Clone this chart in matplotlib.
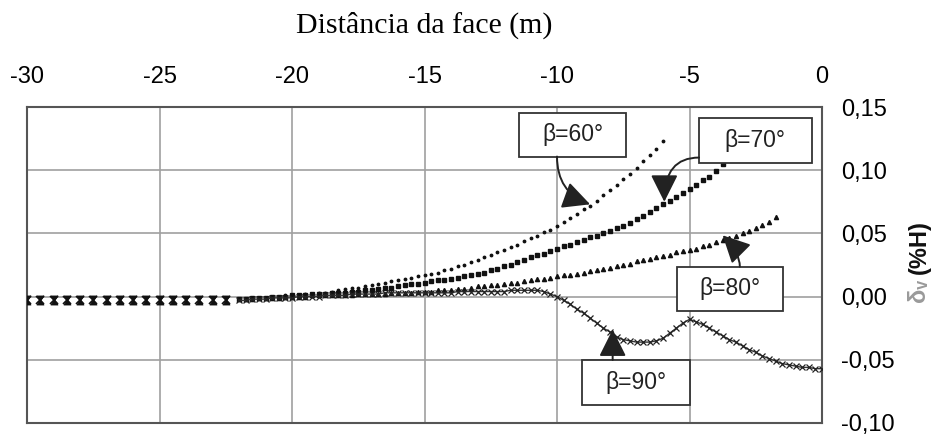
import numpy as np
import matplotlib
matplotlib.use("Agg")
import matplotlib.pyplot as plt
from matplotlib.patches import Rectangle

# ---------------- data ----------------
x_far = [-30.0, -29.5, -29.0, -28.5, -28.0, -27.5, -27.0, -26.5,
         -26.0, -25.5, -25.0, -24.5, -24.0, -23.5, -23.0, -22.5]
y_far = [-0.003, -0.003, -0.003, -0.003, -0.003, -0.003, -0.003, -0.003,
         -0.003, -0.003, -0.003, -0.003, -0.003, -0.003, -0.003, -0.003]

# beta = 60 deg, from -22 m to -6 m every 0.25 m
y_b60 = [
    -0.002, -0.002, -0.001, -0.001,
    -0.001, 0.000, 0.000, 0.001,
    0.001, 0.001, 0.002, 0.002,
    0.003, 0.003, 0.004, 0.005,
    0.006, 0.007, 0.007, 0.008,
    0.009, 0.010, 0.011, 0.012,
    0.013, 0.014, 0.015, 0.016,
    0.017, 0.018, 0.019, 0.021,
    0.022, 0.024, 0.025, 0.027,
    0.029, 0.031, 0.033, 0.035,
    0.037, 0.039, 0.041, 0.044,
    0.046, 0.048, 0.051, 0.053,
    0.056, 0.059, 0.062, 0.065,
    0.069, 0.072, 0.076, 0.080,
    0.084, 0.088, 0.093, 0.097,
    0.102, 0.107, 0.112, 0.117,
    0.123]

# beta = 70 deg, from -22 m to -3.75 m every 0.25 m
y_b70 = [
    -0.002, -0.002, -0.001, -0.001,
    -0.001, 0.000, 0.000, 0.000,
    0.001, 0.001, 0.001, 0.002,
    0.002, 0.002, 0.003, 0.003,
    0.003, 0.004, 0.004, 0.005,
    0.005, 0.006, 0.007, 0.007,
    0.008, 0.009, 0.010, 0.010,
    0.011, 0.012, 0.013, 0.013,
    0.014, 0.015, 0.016, 0.017,
    0.018, 0.019, 0.021, 0.022,
    0.024, 0.025, 0.027, 0.029,
    0.031, 0.033, 0.034, 0.036,
    0.038, 0.040, 0.041, 0.043,
    0.045, 0.047, 0.048, 0.050,
    0.052, 0.054, 0.056, 0.058,
    0.061, 0.064, 0.067, 0.070,
    0.073, 0.076, 0.079, 0.082,
    0.085, 0.088, 0.092, 0.095,
    0.099, 0.105]

# beta = 80 deg, from -22 m to -1.75 m every 0.25 m
y_b80 = [
    -0.002, -0.002, -0.002, -0.001,
    -0.001, -0.001, -0.001, 0.000,
    0.000, 0.000, 0.000, 0.001,
    0.001, 0.001, 0.001, 0.001,
    0.001, 0.001, 0.002, 0.002,
    0.002, 0.002, 0.002, 0.003,
    0.003, 0.003, 0.003, 0.004,
    0.004, 0.004, 0.005, 0.005,
    0.005, 0.006, 0.006, 0.007,
    0.008, 0.008, 0.009, 0.009,
    0.010, 0.011, 0.011, 0.012,
    0.013, 0.014, 0.014, 0.015,
    0.016, 0.017, 0.017, 0.018,
    0.019, 0.020, 0.021, 0.022,
    0.023, 0.024, 0.025, 0.026,
    0.028, 0.029, 0.030, 0.031,
    0.032, 0.033, 0.035, 0.036,
    0.037, 0.038, 0.040, 0.041,
    0.043, 0.045, 0.046, 0.048,
    0.050, 0.052, 0.054, 0.057,
    0.059, 0.063]

# beta = 90 deg, from -22 m to 0 m every 0.25 m
y_b90 = [
    -0.003, -0.003, -0.002, -0.002,
    -0.002, -0.001, -0.001, -0.001,
    -0.001, 0.000, 0.000, 0.000,
    0.000, 0.001, 0.001, 0.001,
    0.001, 0.002, 0.002, 0.002,
    0.002, 0.002, 0.003, 0.003,
    0.003, 0.003, 0.003, 0.003,
    0.003, 0.003, 0.003, 0.003,
    0.003, 0.004, 0.004, 0.004,
    0.004, 0.004, 0.004, 0.004,
    0.004, 0.005, 0.005, 0.005,
    0.005, 0.005, 0.004, 0.002,
    0.000, -0.003, -0.006, -0.010,
    -0.013, -0.017, -0.021, -0.025,
    -0.028, -0.032, -0.034, -0.035,
    -0.036, -0.036, -0.036, -0.035,
    -0.033, -0.029, -0.025, -0.021,
    -0.018, -0.020, -0.022, -0.025,
    -0.028, -0.031, -0.034, -0.036,
    -0.039, -0.042, -0.044, -0.047,
    -0.049, -0.051, -0.053, -0.054,
    -0.055, -0.056, -0.056, -0.057,
    -0.057]

x_start_near = -22.0
x_step_near = 0.25

labels = ["β=60°", "β=70°", "β=80°", "β=90°"]
xtick_vals = [-30, -25, -20, -15, -10, -5, 0]
xtick_labels = ["-30", "-25", "-20", "-15", "-10", "-5", "0"]
ytick_vals = [-0.10, -0.05, 0.00, 0.05, 0.10, 0.15]
ytick_labels = ["-0,10", "-0,05", "0,00", "0,05", "0,10", "0,15"]
title = "Distância da face (m)"


def near_x(ys):
    return x_start_near + x_step_near * np.arange(len(ys))


# ---------------- figure ----------------
W, H = 933, 434
fig = plt.figure(figsize=(W / 100, H / 100), dpi=100)
ax_l, ax_r, ax_t, ax_b = 27, 822, 107, 423
ax = fig.add_axes([ax_l / W, 1 - ax_b / H, (ax_r - ax_l) / W, (ax_b - ax_t) / H])
ax.set_xlim(-30, 0)
ax.set_ylim(-0.10, 0.15)

ax.grid(True, color="#a0a0a0", lw=1.2)
ax.set_axisbelow(True)
for s in ax.spines.values():
    s.set_color("#555555")
    s.set_linewidth(1.5)

sans = ["Liberation Sans", "DejaVu Sans"]

ax.xaxis.tick_top()
ax.yaxis.tick_right()
ax.set_xticks(xtick_vals)
ax.set_xticklabels(xtick_labels, family=sans, fontsize=17)
ax.set_yticks(ytick_vals)
ax.set_yticklabels(ytick_labels, family=sans, fontsize=17)
ax.tick_params(axis="x", length=0, pad=14)
ax.tick_params(axis="y", length=0, pad=14)
for t in ax.get_yticklabels():
    t.set_va("center_baseline")

mk = dict(color="#111111", ls="none")
hourglass = [(-1, 1.3), (1, 1.3), (0.15, 0), (1, -1.3), (-1, -1.3), (-0.15, 0), (-1, 1.3)]
# far field (all series coincide)
ax.plot(x_far, y_far, marker=hourglass, ms=6.5, mew=0.6, **mk, zorder=3)
ax.plot(x_far, y_far, marker="x", ms=5.5, mew=1.2, **mk, zorder=3)

ax.plot(near_x(y_b60), y_b60, marker=".", ms=3.5, **mk, zorder=3)
ax.plot(near_x(y_b70), y_b70, marker="s", ms=2.8, **mk, zorder=3)
ax.plot(near_x(y_b80), y_b80, marker="^", ms=3, **mk, zorder=3)
ax.plot(near_x(y_b90), y_b90, color="#333333", lw=1.0, marker="x", ms=5,
        mew=0.9, mec="#222222", zorder=3)

# annotation boxes (data coords)
boxes = [(-11.42, 0.1108, 4.01, 0.0348),
         (-4.64, 0.1055, 4.25, 0.0356),
         (-5.48, -0.0111, 4.02, 0.0348),
         (-9.07, -0.0857, 4.09, 0.0356)]
for (bx, by, bw, bh), lab in zip(boxes, labels):
    ax.add_patch(Rectangle((bx, by), bw, bh, facecolor="white",
                           edgecolor="#333333", lw=1.3, zorder=5))
    ax.text(bx + bw / 2, by + bh / 2, lab, family=sans, fontsize=16.5,
            ha="center", va="center", color="#222222", zorder=6)

ap = dict(arrowstyle="-|>,head_length=0.7,head_width=0.35", color="#222222",
          lw=1.4, mutation_scale=24, shrinkA=0, shrinkB=0)
# beta 60
ax.annotate("", xy=(-8.75, 0.073), xytext=(-10.0, 0.1108), zorder=7,
            arrowprops=dict(ap, connectionstyle="angle3,angleA=-90,angleB=-20"))
# beta 70
ax.annotate("", xy=(-5.95, 0.075), xytext=(-4.64, 0.1100), zorder=7,
            arrowprops=dict(ap, connectionstyle="angle3,angleA=180,angleB=90"))
# beta 80
ax.annotate("", xy=(-3.75, 0.0485), xytext=(-3.1, 0.0237), zorder=7,
            arrowprops=dict(ap, connectionstyle="angle3,angleA=90,angleB=135"))
# beta 90
ax.annotate("", xy=(-7.9, -0.026), xytext=(-7.9, -0.0501), zorder=7,
            arrowprops=dict(ap, connectionstyle="arc3,rad=0.0"))

# title on top
fig.text(424.5 / W, 1 - 33 / H, title, family=["Liberation Serif", "DejaVu Serif"],
         fontsize=21.5, ha="center", va="baseline")

# right y label
fig.text(919 / W, 1 - 247 / H, "(%H)", family=sans, fontsize=17, fontweight="bold",
         rotation=90, ha="center", va="center", color="#111111")
fig.text(919 / W, 1 - 291 / H, "δᵥ", family=sans, fontsize=17, fontweight="bold",
         rotation=90, ha="center", va="center", color="#9a9a9a")

fig.savefig("out.png", dpi=100)
